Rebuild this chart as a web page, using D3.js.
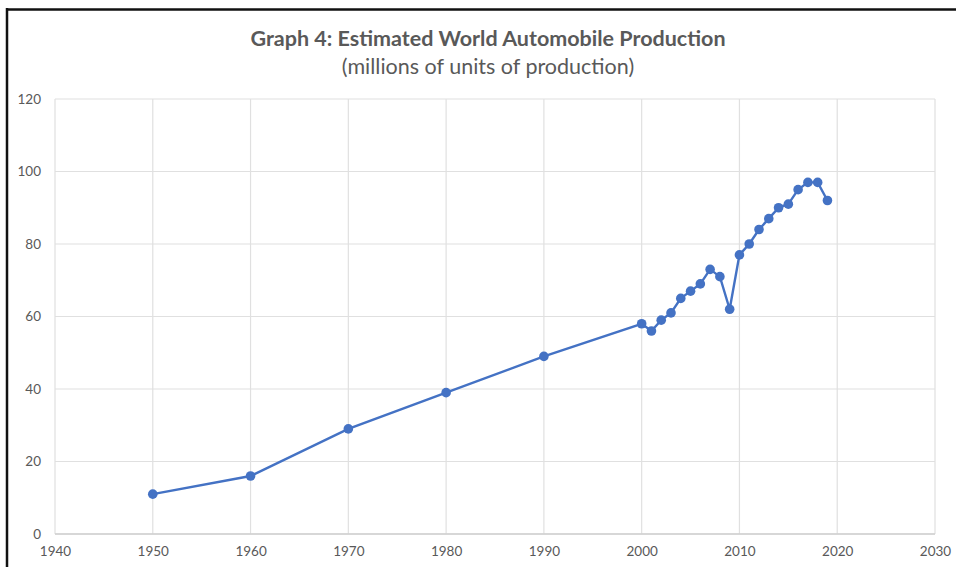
<!DOCTYPE html>
<html>
<head>
<meta charset="utf-8">
<script src="https://cdn.jsdelivr.net/npm/d3@7"></script>
<style>
  body { margin: 0; background: #fff; }
  svg { display: block; }
</style>
</head>
<body>
<svg id="chart" width="956" height="567"></svg>
<script>
// estimated world automobile production, millions of units
let years = [1950, 1960, 1970, 1980, 1990, 2000, 2001, 2002, 2003, 2004, 2005, 2006, 2007,
             2008, 2009, 2010, 2011, 2012, 2013, 2014, 2015, 2016, 2017, 2018, 2019];
let production = [11, 16, 29, 39, 49, 58, 56, 59, 61, 65, 67, 69, 73,
                  71, 62, 77, 80, 84, 87, 90, 91, 95, 97, 97, 92];

let xTicks = [1940, 1950, 1960, 1970, 1980, 1990, 2000, 2010, 2020, 2030];
let yTicks = [0, 20, 40, 60, 80, 100, 120];

let titleText = 'Graph 4: Estimated World Automobile Production';
let subtitleText = '(millions of units of production)';

let svg = d3.select('#chart');
let margin = {left: 55, right: 21, top: 99, bottom: 33};
let width = 956 - margin.left - margin.right;
let height = 567 - margin.top - margin.bottom;

let x = d3.scaleLinear().domain([1940, 2030]).range([0, width]);
let y = d3.scaleLinear().domain([0, 120]).range([height, 0]);

// black frame left/top (scanned image edge)
svg.append('line').attr('x1', 6).attr('x2', 956).attr('y1', 9.5).attr('y2', 9.5)
    .attr('stroke', '#111').attr('stroke-width', 2.5);
svg.append('line').attr('x1', 7).attr('x2', 7).attr('y1', 8).attr('y2', 567)
    .attr('stroke', '#111').attr('stroke-width', 2.5);

svg.append('text')
    .attr('x', 488).attr('y', 46)
    .attr('text-anchor', 'middle')
    .attr('font-family', 'Lato, "Open Sans", sans-serif')
    .attr('font-weight', 'bold')
    .attr('font-size', 21.5)
    .attr('fill', '#595959')
    .text(titleText);

svg.append('text')
    .attr('x', 488).attr('y', 74)
    .attr('text-anchor', 'middle')
    .attr('font-family', 'Lato, "Open Sans", sans-serif')
    .attr('font-size', 21.5)
    .attr('fill', '#595959')
    .text(subtitleText);

let g = svg.append('g').attr('transform', `translate(${margin.left},${margin.top})`);

// gridlines
g.selectAll('.hgrid')
    .data(yTicks)
    .enter()
    .append('line')
    .attr('class', 'hgrid')
    .attr('x1', 0).attr('x2', width)
    .attr('y1', d => y(d)).attr('y2', d => y(d))
    .attr('stroke', '#e0e0e0').attr('stroke-width', 1.2);

g.selectAll('.vgrid')
    .data(xTicks)
    .enter()
    .append('line')
    .attr('class', 'vgrid')
    .attr('x1', d => x(d)).attr('x2', d => x(d))
    .attr('y1', 0).attr('y2', height)
    .attr('stroke', '#e0e0e0').attr('stroke-width', 1.2);

// bottom axis line
g.append('line')
    .attr('x1', 0).attr('x2', width)
    .attr('y1', height).attr('y2', height)
    .attr('stroke', '#cfcfcf').attr('stroke-width', 1.5);

let yAxis = d3.axisLeft(y).tickValues(yTicks).tickSize(0).tickPadding(14);
let xAxis = d3.axisBottom(x).tickValues(xTicks).tickFormat(d3.format('d')).tickSize(0).tickPadding(12);

let ya = g.append('g').call(yAxis);
let xa = g.append('g').attr('transform', `translate(0,${height})`).call(xAxis);
[ya, xa].forEach(a => {
    a.select('.domain').remove();
    a.selectAll('text')
        .attr('font-family', 'Lato, "Open Sans", sans-serif')
        .attr('font-size', 13.5)
        .attr('fill', '#595959');
});

let series = years.map((yr, i) => ({year: yr, value: production[i]}));

let line = d3.line()
    .x(d => x(d.year))
    .y(d => y(d.value));

g.append('path')
    .datum(series)
    .attr('d', line)
    .attr('fill', 'none')
    .attr('stroke', '#4472c4')
    .attr('stroke-width', 2.4);

g.selectAll('circle')
    .data(series)
    .enter()
    .append('circle')
    .attr('cx', d => x(d.year))
    .attr('cy', d => y(d.value))
    .attr('r', 4.8)
    .attr('fill', '#4472c4');
</script>
</body>
</html>
